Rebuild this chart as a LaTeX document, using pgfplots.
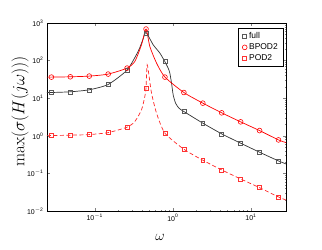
\documentclass[border=0pt]{standalone}
\usepackage{pgfplots}
\pgfplotsset{compat=1.18}
\usepackage{fontspec}
\setsansfont{Liberation Sans}
\begin{document}
\begin{tikzpicture}
\useasboundingbox (-47bp,-39bp) rectangle (275bp,211bp);
\begin{axis}[
  at={(0,0)}, anchor=south west,
  scale only axis, width=239bp, height=188bp,
  xmode=log, ymode=log,
  xmin=0.02446, xmax=28.1, ymin=0.01, ymax=1000,
  xtick={0.1,1,10},
  xticklabels={$\mathsf{10^{-1}}$,$\mathsf{10^{0}}$,$\mathsf{10^{1}}$},
  ytick={0.01,0.1,1,10,100,1000},
  yticklabels={$\mathsf{10^{-2}}$,$\mathsf{10^{-1}}$,$\mathsf{10^{0}}$,$\mathsf{10^{1}}$,$\mathsf{10^{2}}$,$\mathsf{10^{3}}$},
  tick label style={font=\fontsize{7}{8}\selectfont},
  xlabel={$\omega$}, ylabel={$\max(\sigma(H(j\omega)))$},
  xlabel style={font=\fontsize{15}{16}\selectfont, at={(axis description cs:0.473,-0.138)}, anchor=center},
  ylabel style={font=\fontsize{17}{18}\selectfont, at={(axis description cs:-0.113,0.53)}, anchor=center},
  axis line style={line width=0.6pt},
  major tick length=3pt, minor tick length=1.5pt,
  legend style={at={(0.992,0.972)}, anchor=north east, draw=black, line width=0.6pt,
    font=\sffamily\fontsize{8.5}{9}\selectfont, row sep=-0.5pt, inner xsep=4pt, inner ysep=2pt},
  legend cell align=left,
]
% curves
\addplot[black!80, line width=0.7pt, smooth, tension=0.35, forget plot] coordinates {
(0.02446,14.1) (0.02786,14.17) (0.04867,14.79) (0.0850,16.72) (0.1485,23.14)
(0.2596,55.98) (0.3590,175) (0.4124,359) (0.4533,560) (0.5590,264) (0.6813,159)
(0.792,93.1) (0.870,63.3) (0.915,46.6) (0.962,25.2) (1.009,12.3) (1.083,7.4) (1.194,5.44) (1.384,4.42)
(2.418,2.169) (4.224,1.125) (7.38,0.636) (12.89,0.366) (22.52,0.2147) (28.1,0.1786)};
\addplot[red, line width=0.7pt, smooth, tension=0.4, forget plot] coordinates {
(0.02446,36.3) (0.02786,36.4) (0.04867,37.1) (0.0850,38.7) (0.1485,43.8)
(0.2596,63.3) (0.3257,94.9) (0.3969,264) (0.4533,692) (0.5072,238) (0.618,86)
(0.792,36.4) (1.384,14.17) (2.418,7.39) (4.224,4.08) (7.38,2.35) (12.89,1.377)
(22.52,0.778) (28.1,0.660)};
\addplot[red!85, line width=0.7pt, dash pattern=on 4pt off 2.5pt, smooth, tension=0.4, forget plot] coordinates {
(0.02446,1.01) (0.02786,1.014) (0.04867,1.039) (0.0850,1.078) (0.1485,1.218)
(0.2596,1.697) (0.3257,2.392) (0.3969,4.90) (0.4375,11.1) (0.4533,18.55) (0.4685,77.5)
(0.4968,37.8) (0.533,13.65) (0.618,4.00) (0.792,1.174) (1.384,0.440) (2.418,0.224)
(4.224,0.1237) (7.38,0.0712) (12.89,0.0417) (22.52,0.0236) (28.1,0.0196)};
% markers
\addplot[only marks, mark=square, mark size=2pt, mark options={draw=black!65, line width=0.6pt}] coordinates {
(0.02786,14.17) (0.04867,14.79) (0.0850,16.72) (0.1485,23.14) (0.2596,55.98)
(0.4533,541) (0.792,93.1) (1.384,4.42) (2.418,2.169) (4.224,1.125) (7.38,0.636)
(12.89,0.366) (22.52,0.2147)};
\addlegendentry{full}
\addplot[only marks, mark=o, mark size=2.4pt, mark options={draw=red, line width=0.6pt}] coordinates {
(0.02786,36.4) (0.04867,37.1) (0.0850,38.7) (0.1485,43.8) (0.2596,63.3)
(0.4533,692) (0.792,36.4) (1.384,14.17) (2.418,7.39) (4.224,4.08) (7.38,2.35)
(12.89,1.377) (22.52,0.778)};
\addlegendentry{BPOD2}
\addplot[only marks, mark=square, mark size=2pt, mark options={draw=red!80, line width=0.6pt}] coordinates {
(0.02786,1.014) (0.04867,1.039) (0.0850,1.078) (0.1485,1.218) (0.2596,1.697)
(0.4533,18.55) (0.792,1.174) (1.384,0.440) (2.418,0.224) (4.224,0.1237) (7.38,0.0712)
(12.89,0.0417) (22.52,0.0236)};
\addlegendentry{POD2}
\end{axis}
\end{tikzpicture}
\end{document}
